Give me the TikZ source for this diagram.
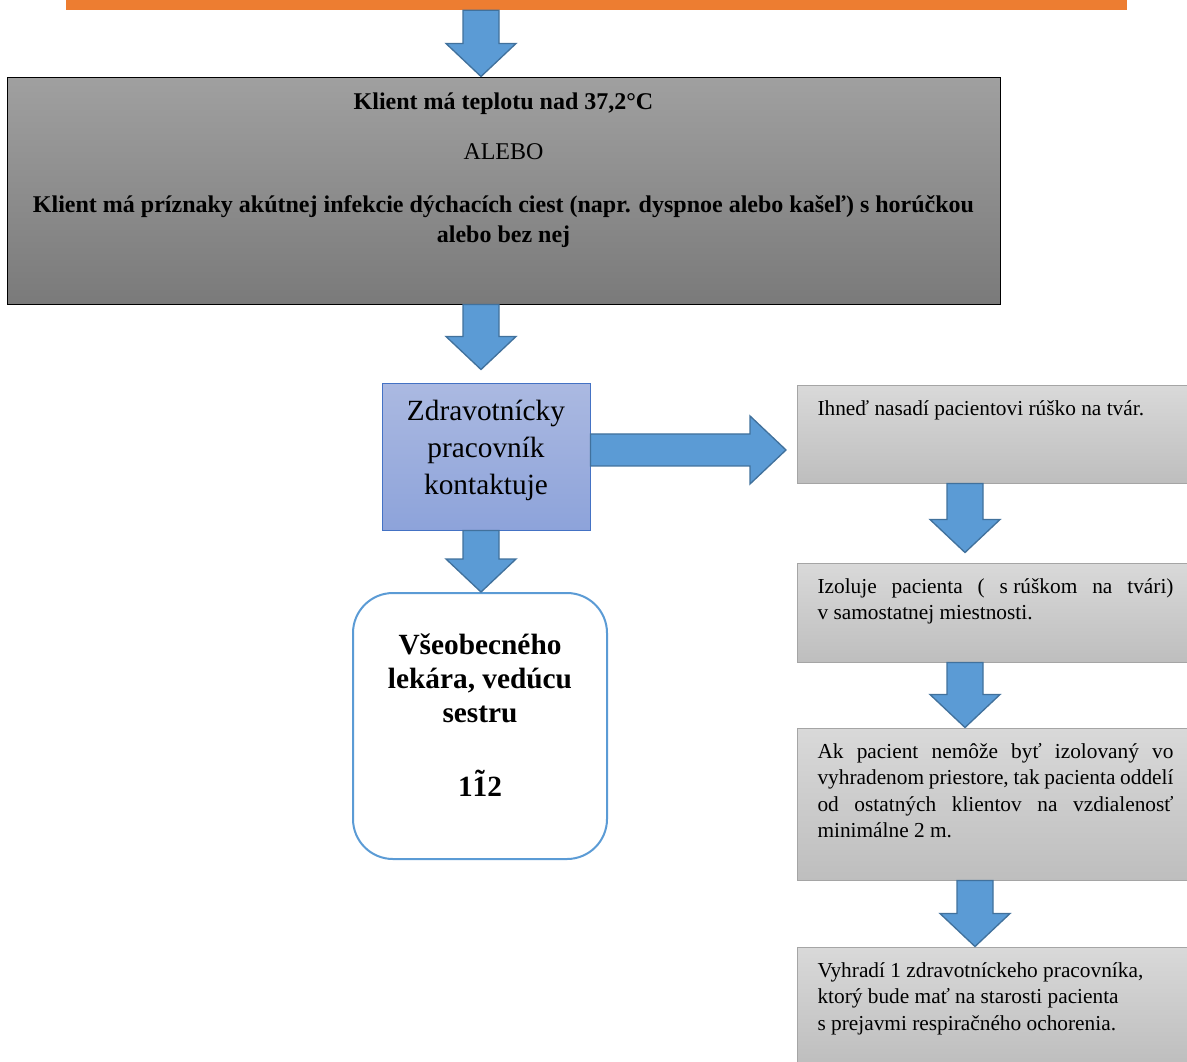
\documentclass[tikz,border=0pt]{standalone}
\usepackage{fontspec}
\setmainfont{Liberation Serif}
\usetikzlibrary{calc}

\definecolor{barorange}{HTML}{ED7D31}
\definecolor{arrowfill}{HTML}{5B9BD5}
\definecolor{arrowline}{HTML}{41719C}
\definecolor{condtop}{HTML}{A0A0A0}
\definecolor{condbot}{HTML}{7A7A7A}
\definecolor{contop}{HTML}{ABB9E1}
\definecolor{conbot}{HTML}{8DA3DA}
\definecolor{conline}{HTML}{4472C4}
\definecolor{steptop}{HTML}{D9D9D9}
\definecolor{stepbot}{HTML}{BEBEBE}
\definecolor{stepline}{HTML}{A5A5A5}

\newcommand{\boxtext}[3]{\parbox[c][#2][t]{#1}{#3}}
\newcommand{\tildeone}{\accent"02DC 1}

\tikzset{
  fat gap/.store in=\fatgap, fat gap=0pt,
  fatdown/.style={draw=arrowline, line width=1pt, fill=arrowfill,
    to path={let \p1=(\tikztostart), \p2=(\tikztotarget) in
      (\x1-13.5pt,\y1) -- (\x1-13.5pt,\y2+\fatgap+24.75pt) -- (\x1-26.25pt,\y2+\fatgap+24.75pt)
      -- (\x1,\y2+\fatgap) -- (\x1+26.25pt,\y2+\fatgap+24.75pt) -- (\x1+13.5pt,\y2+\fatgap+24.75pt)
      -- (\x1+13.5pt,\y1) -- cycle}},
  fatright/.style={draw=arrowline, line width=1pt, fill=arrowfill,
    to path={let \p1=(\tikztostart), \p2=(\tikztotarget) in
      (\x1,\y1-12pt) -- (\x2-\fatgap-27pt,\y1-12pt) -- (\x2-\fatgap-27pt,\y1-25.5pt)
      -- (\x2-\fatgap,\y1) -- (\x2-\fatgap-27pt,\y1+25.5pt) -- (\x2-\fatgap-27pt,\y1+12pt)
      -- (\x1,\y1+12pt) -- cycle}},
  condbox/.style={draw=black, line width=0.75pt, top color=condtop, bottom color=condbot,
    inner xsep=0pt, inner ysep=12pt, font=\fontsize{18pt}{22.5pt}\selectfont\bfseries},
  conbox/.style={draw=conline, line width=0.75pt, top color=contop, bottom color=conbot,
    inner xsep=0pt, inner ysep=12.75pt, font=\fontsize{22pt}{27.75pt}\selectfont},
  callbox/.style={draw=arrowfill, line width=1.5pt, fill=white, rounded corners=30pt,
    inner xsep=0pt, inner ysep=30.75pt, font=\fontsize{22pt}{25.5pt}\selectfont\bfseries},
  stepbox/.style={draw=stepline, line width=0.75pt, top color=steptop, bottom color=stepbot,
    anchor=west, inner xsep=15pt, inner ysep=11.5pt, font=\fontsize{16pt}{19.875pt}\selectfont}
}

\begin{document}
\begin{tikzpicture}[x=0.75pt,y=-0.75pt]
        \useasboundingbox (0,0) rectangle (1187,1061);
        %% top bar
        \node[fill=barorange, minimum width=795.75pt, minimum height=11.25pt, inner sep=0pt] (bar) at (596.5,2.5) {};
        %% condition
        \node[condbox] (cond) at (503.5,190.5) {\boxtext{744.75pt}{146.25pt}{\centering
            Klient má teplotu nad 37,2°C\\[15pt]
            {\mdseries ALEBO}\\[17pt]
            Klient má príznaky akútnej infekcie dýchacích ciest (napr. dyspnoe alebo kašeľ) s~horúčkou\\
            alebo bez nej}};
        %% who acts
        \node[conbox] (con) at (486,456.5) {\boxtext{156pt}{84.75pt}{\centering
            Zdravotnícky\\ pracovník\\ kontaktuje}};
        \node[callbox] (call) at (480,726) {\boxtext{190.5pt}{138pt}{\centering
            Všeobecného\\ lekára, vedúcu\\ sestru\\[30pt] 1\tildeone2}};
        %% steps
        \node[stepbox] (mask) at (797,434) {\boxtext{267pt}{50.5pt}{%
            Ihneď nasadí pacientovi rúško na tvár.}};
        \node[stepbox] (isol) at (797,612.5) {\boxtext{267pt}{51.25pt}{%
            Izoluje pacienta ( \mbox{s rúškom} na tvári)\linebreak v~samostatnej miestnosti.}};
        \node[stepbox] (apart) at (797,804) {\boxtext{267pt}{91pt}{%
            Ak pacient nemôže byť izolovaný vo\linebreak vyhradenom priestore, tak pacienta oddelí\linebreak
            od ostatných klientov na vzdialenosť\linebreak minimálne 2~m.}};
        \node[stepbox] (assign) at (797,1005.5) {\boxtext{267pt}{64.75pt}{%
            Vyhradí 1 zdravotníckeho pracovníka,\\ ktorý bude mať na starosti pacienta\\
            s~prejavmi respiračného ochorenia.}};
        %% arrows
        \coordinate (laxis) at (481,0);
        \coordinate (raxis) at (965,0);
        \coordinate (raxisb) at (975,0);
        \draw[fatdown] (bar.south -| laxis) to (cond.north -| laxis);
        \draw[fatdown, fat gap=9.75pt] (cond.south -| laxis) to (con.north -| laxis);
        \draw[fatdown] (con.south -| laxis) to (call.north -| laxis);
        \draw[fatright, fat gap=8.25pt] ([yshift=4.9pt]con.east) to (mask.west);
        \draw[fatdown, fat gap=7.5pt] (mask.south -| raxis) to (isol.north -| raxis);
        \draw[fatdown] (isol.south -| raxis) to (apart.north -| raxis);
        \draw[fatdown] (apart.south -| raxisb) to (assign.north -| raxisb);
    \end{tikzpicture}
\end{document}
